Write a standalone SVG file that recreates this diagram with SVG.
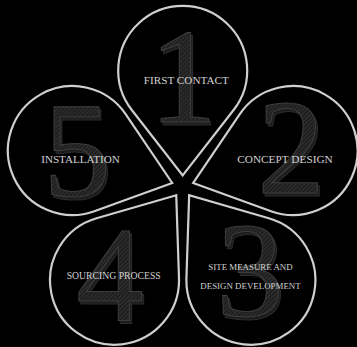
<svg xmlns="http://www.w3.org/2000/svg" width="357" height="347" viewBox="0 0 357 347">
  <style>
    .petal { fill: none; stroke: #cfcfcf; stroke-width: 2.2; stroke-linejoin: miter; }
    .num { font-family: "Liberation Serif", "Times New Roman", serif; font-size: 135px; text-anchor: middle; fill: url(#hatch); stroke: #3e3e3e; stroke-width: 1; }
    .shadow { font-family: "Liberation Serif", "Times New Roman", serif; font-size: 135px; text-anchor: middle; fill: #1c1c1c; stroke: #2c2c2c; stroke-width: 1; }
    .lbl { font-family: "Liberation Serif", "Times New Roman", serif; fill: #d2d2d2; text-anchor: middle; }
  </style>
  <defs>
    <pattern id="hatch" width="3" height="3" patternUnits="userSpaceOnUse" patternTransform="rotate(45)">
      <rect width="3" height="3" fill="#1f1f1f"/>
      <line x1="0" y1="0" x2="0" y2="3" stroke="#3c3c3c" stroke-width="1.2"/>
    </pattern>
    <path id="drop" d="M0,105 L50.9,39.62 A64.5,64.5 0 1 0 -50.9,39.62 Z"/>
  </defs>
  <rect width="357" height="347" fill="#000"/>

  <g id="node-1">
    <text class="shadow" x="185" y="125">1</text>
    <text class="num" x="183" y="122">1</text>
    <use href="#drop" class="petal" transform="translate(182.7,186.4) rotate(0) translate(0,-116)"/>
    <text class="lbl" x="186.3" y="84.3" font-size="11.2">FIRST CONTACT</text>
  </g>

  <g id="node-2">
    <text class="shadow" x="293" y="196">2</text>
    <text class="num" x="291" y="193">2</text>
    <use href="#drop" class="petal" transform="translate(182.7,186.4) rotate(72) translate(0,-116)"/>
    <text class="lbl" x="285" y="163" font-size="11.3">CONCEPT DESIGN</text>
  </g>

  <g id="node-3">
    <text class="shadow" x="252" y="319">3</text>
    <text class="num" x="250" y="316">3</text>
    <use href="#drop" class="petal" transform="translate(182.7,186.4) rotate(144) translate(0,-116)"/>
    <text class="lbl" x="250.5" y="270" font-size="8.9">SITE MEASURE AND</text>
    <text class="lbl" x="250.5" y="289" font-size="8.9">DESIGN DEVELOPMENT</text>
  </g>

  <g id="node-4">
    <text class="shadow" x="112" y="324">4</text>
    <text class="num" x="110" y="321">4</text>
    <use href="#drop" class="petal" transform="translate(182.7,186.4) rotate(216) translate(0,-116)"/>
    <text class="lbl" x="113.7" y="279" font-size="9.7">SOURCING PROCESS</text>
  </g>

  <g id="node-5">
    <text class="shadow" x="79" y="199">5</text>
    <text class="num" x="77" y="196">5</text>
    <use href="#drop" class="petal" transform="translate(182.7,186.4) rotate(288) translate(0,-116)"/>
    <text class="lbl" x="80.5" y="163" font-size="11.1">INSTALLATION</text>
  </g>

  <g id="connectors"></g>
</svg>
